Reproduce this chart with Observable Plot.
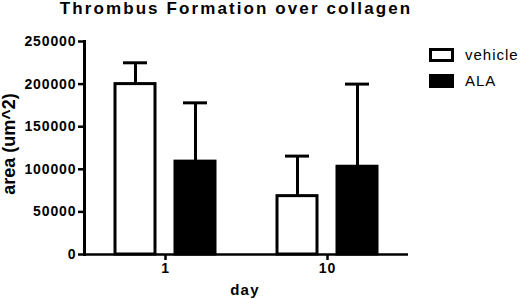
<!DOCTYPE html>
<html>
<head>
<meta charset="utf-8">
<script src="https://cdn.jsdelivr.net/npm/d3@7"></script>
<script src="https://cdn.jsdelivr.net/npm/@observablehq/plot@0.6"></script>
<style>
  html, body { margin: 0; padding: 0; background: white; }
  #wrap { position: relative; width: 520px; height: 299px; overflow: hidden; font-family: "Liberation Sans", Arial, sans-serif; color: black; }
  #title { position: absolute; left: 0; top: 0; width: 472px; height: 20px; line-height: 17px; text-align: center; font-weight: bold; font-size: 17px; letter-spacing: 2.1px; }
  #chart { position: absolute; left: 0; top: 22px; }
  #chart svg text { letter-spacing: 0.9px; }
  .abs { position: absolute; white-space: nowrap; }
  #ylabel { left: 9px; top: 144px; transform: translate(-50%, -50%) rotate(-90deg); font-weight: bold; font-size: 18px; }
  #xlabel { left: 245px; top: 289px; transform: translate(-50%, -50%); font-weight: bold; font-size: 15px; letter-spacing: 1.3px; }
  .swatch { position: absolute; box-sizing: border-box; width: 25px; height: 14px; border: 3px solid black; }
  .legtext { position: absolute; font-size: 15px; line-height: 18px; letter-spacing: 1px; }
</style>
</head>
<body>
<div id="wrap">
  <div id="title">Thrombus Formation over collagen</div>
  <div id="chart"></div>
  <div id="ylabel" class="abs">area (um^2)</div>
  <div id="xlabel" class="abs">day</div>
  <div id="legend"></div>
</div>
<script>
const days = ["1", "10"];
const groups = ["vehicle", "ALA"];
const vehicleMean = [200000, 68500];
const vehicleSD = [25000, 47000];
const alaMean = [109000, 103000];
const alaSD = [69000, 97000];
const yTicks = [0, 50000, 100000, 150000, 200000, 250000];
const groupFill = ["white", "black"];

const data = days.flatMap((day, i) => [
  {day, group: groups[0], mean: vehicleMean[i], sd: vehicleSD[i]},
  {day, group: groups[1], mean: alaMean[i], sd: alaSD[i]}
]);

const chart = Plot.plot({
  width: 520,
  height: 277,
  marginTop: 19,
  marginBottom: 45,
  marginLeft: 84,
  marginRight: 112,
  style: {fontFamily: "Liberation Sans, Arial, sans-serif", fontWeight: "bold", fontSize: "14px", color: "black", background: "white", overflow: "visible"},
  fx: {domain: days, padding: 0, label: null},
  x: {domain: groups, paddingInner: 0.328, paddingOuter: 0.492, axis: null},
  y: {domain: [0, 250000], label: null},
  color: {domain: groups, range: groupFill},
  marks: [
    Plot.frame({anchor: "left", facetAnchor: "left", stroke: "black", strokeWidth: 3}),
    Plot.axisY({ticks: yTicks, tickFormat: "d", tickSize: 6, tickPadding: 2, strokeWidth: 2.5, stroke: "black", label: null}),
    Plot.axisFx({anchor: "bottom", tickSize: 6, tickPadding: 3, strokeWidth: 2.5, stroke: "black", label: null}),
    Plot.ruleX(data, {fx: "day", x: "group", y1: "mean", y2: d => d.mean + d.sd, stroke: "black", strokeWidth: 3}),
    Plot.tickY(data, {fx: "day", x: "group", y: d => d.mean + d.sd, stroke: "black", strokeWidth: 3, insetLeft: 8, insetRight: 8}),
    Plot.barY(data, {fx: "day", x: "group", y: "mean", fill: "group", stroke: "black", strokeWidth: 3}),
    Plot.ruleY([0], {stroke: "black", strokeWidth: 2.5})
  ]
});
document.getElementById("chart").appendChild(chart);

// legend
const legend = document.getElementById("legend");
const legTops = [48, 74];
groups.forEach((g, i) => {
  const sw = document.createElement("div");
  sw.className = "swatch";
  sw.style.left = "429px";
  sw.style.top = legTops[i] + "px";
  sw.style.background = groupFill[i];
  legend.appendChild(sw);
  const t = document.createElement("div");
  t.className = "legtext";
  t.style.left = "465px";
  t.style.top = (legTops[i] - 2) + "px";
  t.textContent = g;
  legend.appendChild(t);
});
</script>
</body>
</html>
